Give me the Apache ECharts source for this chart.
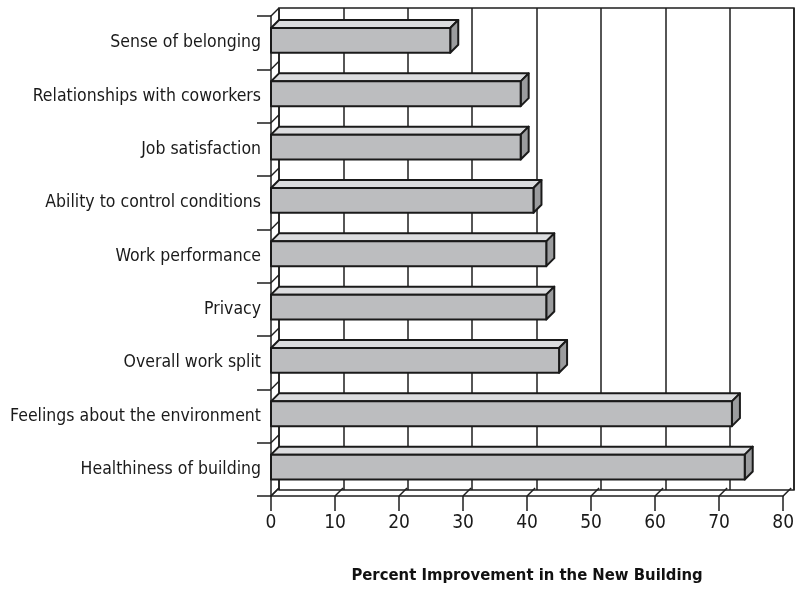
<!DOCTYPE html>
<html>
<head>
    <meta charset="utf-8">
    <title>Percent Improvement</title>
    <script src="https://cdn.jsdelivr.net/npm/echarts@6/dist/echarts.min.js"></script>
    <style>
        html, body { margin: 0; padding: 0; background: #fff; }
    </style>
</head>
<body>
<div id="main" style="width: 797px;height:589px;"></div>
<script type="text/javascript">

    // categories, top to bottom
    var categories = [
        'Sense of belonging',
        'Relationships with coworkers',
        'Job satisfaction',
        'Ability to control conditions',
        'Work performance',
        'Privacy',
        'Overall work split',
        'Feelings about the environment',
        'Healthiness of building'
    ];
    var improvement = [28, 39, 39, 41, 43, 43, 45, 72, 74];
    var tickValues = [0, 10, 20, 30, 40, 50, 60, 70, 80];

    var FONT = "'Liberation Sans Narrow', 'DejaVu Sans Condensed', sans-serif";
    var LINE = '#1e1e1e';
    var DEPTH = 8;

    // 3d bar: front face, top face, right side
    function renderBar(params, api) {
        var idx = api.value(1);
        var c = api.coord([0, idx]);
        var e = api.coord([api.value(0), idx]);
        var h = api.size([0, 1])[1];
        var x0 = c[0], x1 = e[0];
        var top = c[1] - 0.275 * h;
        var bot = c[1] + 0.19 * h;
        var st = { stroke: '#1a1a1a', lineWidth: 2, lineJoin: 'round' };
        return {
            type: 'group',
            children: [
                { type: 'polygon', shape: { points: [[x0, top], [x0 + DEPTH, top - DEPTH], [x1 + DEPTH, top - DEPTH], [x1, top]] },
                  style: Object.assign({ fill: '#dcdddf' }, st) },
                { type: 'polygon', shape: { points: [[x1, top], [x1 + DEPTH, top - DEPTH], [x1 + DEPTH, bot - DEPTH], [x1, bot]] },
                  style: Object.assign({ fill: '#9b9c9e' }, st) },
                { type: 'rect', shape: { x: x0, y: top, width: x1 - x0, height: bot - top },
                  style: Object.assign({ fill: '#bcbdbf' }, st) }
            ]
        };
    }

    // floor diagonals at every value tick
    function renderFloor(params, api) {
        var cs = params.coordSys;
        var p = api.coord([api.value(0), 0]);
        var yb = cs.y + cs.height;
        return {
            type: 'line',
            shape: { x1: p[0], y1: yb, x2: p[0] + DEPTH, y2: yb - DEPTH },
            style: { stroke: LINE, lineWidth: 1.5 }
        };
    }

    // left wall diagonals at every category boundary
    function renderWall(params, api) {
        var cs = params.coordSys;
        var y = cs.y + api.value(0) * cs.height / categories.length;
        return {
            type: 'line',
            shape: { x1: cs.x, y1: y, x2: cs.x + DEPTH, y2: y - DEPTH },
            style: { stroke: LINE, lineWidth: 1.5 }
        };
    }

    var boundaries = [];
    for (var i = 0; i <= categories.length; i++) boundaries.push([i]);

    var option = {
        animation: false,
        backgroundColor: '#fff',
        grid: [
            { left: 271, right: 11, top: 16, bottom: 91 },
            { left: 279, right: 3, top: 8, bottom: 99, show: true, borderColor: LINE, borderWidth: 1.5, backgroundColor: 'transparent' }
        ],
        xAxis: [
            {
                gridIndex: 0, type: 'value', min: 0, max: 80, interval: 10,
                axisLine: { show: true, lineStyle: { color: LINE, width: 1.5 } },
                axisTick: { show: true, length: 15, lineStyle: { color: LINE, width: 1.5 } },
                splitLine: { show: false },
                axisLabel: { margin: 18, color: '#1a1a1a', fontFamily: FONT, fontSize: 19 },
                name: 'Percent Improvement in the New Building',
                nameLocation: 'middle', nameGap: 71,
                nameTextStyle: { color: '#111', fontFamily: FONT, fontSize: 16.5, fontWeight: 'bold' }
            },
            {
                gridIndex: 1, type: 'value', min: 0, max: 80, interval: 10,
                axisLine: { show: false }, axisTick: { show: false }, axisLabel: { show: false },
                splitLine: { show: true, lineStyle: { color: LINE, width: 1.5 } }
            }
        ],
        yAxis: [
            {
                gridIndex: 0, type: 'category', data: categories, inverse: true,
                axisLine: { show: true, lineStyle: { color: LINE, width: 1.5 } },
                axisTick: { show: true, length: 14, lineStyle: { color: LINE, width: 1.5 } },
                axisLabel: { margin: 10, color: '#1a1a1a', fontFamily: FONT, fontSize: 17.5, padding: [0, 0, 7, 0] }
            },
            {
                gridIndex: 1, type: 'value', show: false, min: 0, max: 1
            }
        ],
        series: [
            {
                type: 'custom', xAxisIndex: 0, yAxisIndex: 0,
                renderItem: renderFloor, data: tickValues.map(function (v) { return [v]; }),
                silent: true, z: 1
            },
            {
                type: 'custom', xAxisIndex: 0, yAxisIndex: 0,
                renderItem: renderWall, data: boundaries,
                silent: true, z: 1
            },
            {
                type: 'custom', xAxisIndex: 0, yAxisIndex: 0,
                renderItem: renderBar,
                data: improvement.map(function (v, i) { return [v, i]; }),
                z: 3
            }
        ]
    };

    var myChart = echarts.init(document.getElementById('main'));
    myChart.setOption(option);

</script>
</body>
</html>
